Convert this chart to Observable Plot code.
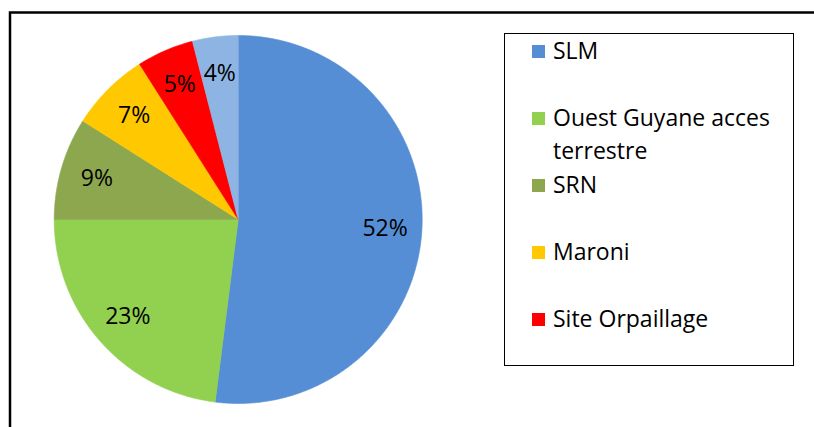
<!DOCTYPE html>
<html>
<head>
<meta charset="utf-8">
<script src="https://cdn.jsdelivr.net/npm/d3@7"></script>
<script src="https://cdn.jsdelivr.net/npm/@observablehq/plot@0.6"></script>
<style>
  html, body { margin: 0; padding: 0; background: #fff; }
  #wrap { position: relative; width: 814px; height: 427px; overflow: hidden; }
  #legend { position: absolute; left: 504px; top: 33px; width: 290px; height: 333px; border: 1px solid #000; box-sizing: border-box; font-family: "Open Sans", sans-serif; font-size: 23px; color: #000; }
  .item { position: absolute; left: 27px; width: 255px; line-height: 33px; }
  .sw { position: absolute; left: 0; top: 11px; width: 13px; height: 13px; }
  .lab { margin-left: 21px; display: block; width: 234px; }
</style>
</head>
<body>
<div id="wrap"><div id="chart"></div><div id="legend"></div></div>
<script>
const categories = ["SLM", "Ouest Guyane acces terrestre", "SRN", "Maroni", "Site Orpaillage", "Autres"];
const values = [52, 23, 9, 7, 5, 4];
const colors = ["#558ED5", "#92D050", "#8DA74F", "#FFC800", "#FF0000", "#8EB4E3"];
const legendCategories = ["SLM", "Ouest Guyane acces terrestre", "SRN", "Maroni", "Site Orpaillage"];

const arcs = d3.pie().sort(null).value(d => d)(values);
const total = d3.sum(values);

// slice polygons in unit-circle coordinates (y up), angles clockwise from 12 o'clock
const points = [];
arcs.forEach((a, i) => {
  const name = categories[i];
  points.push({name, x: 0, y: 0});
  const n = Math.max(2, Math.ceil((a.endAngle - a.startAngle) / (Math.PI / 360)));
  for (let k = 0; k <= n; k++) {
    const t = a.startAngle + (a.endAngle - a.startAngle) * k / n;
    points.push({name, x: Math.sin(t), y: Math.cos(t)});
  }
  points.push({name, x: 0, y: 0});
});

const labelRadius = 0.8;
const labels = arcs.map((a, i) => {
  const m = (a.startAngle + a.endAngle) / 2;
  return {name: categories[i], text: Math.round(values[i] / total * 100) + "%", x: labelRadius * Math.sin(m), y: labelRadius * Math.cos(m)};
});

const plot = Plot.plot({
  width: 814,
  height: 427,
  margin: 0,
  style: {background: "#fff"},
  x: {domain: [-1, 1], range: [53.7, 421.7], axis: null},
  y: {domain: [-1, 1], range: [403, 35], axis: null},
  color: {domain: categories, range: colors},
  marks: [
    Plot.line(points, {x: "x", y: "y", z: "name", fill: "name", stroke: "name", strokeWidth: 0.6, curve: "linear"}),
    Plot.text(labels, {x: "x", y: "y", text: "text", fill: "#000", fontSize: 23, fontFamily: "Open Sans, sans-serif"}),
    Plot.frame({stroke: "#000", strokeWidth: 2.5, insetLeft: 9.5, insetTop: 12, insetRight: -10, insetBottom: -10})
  ]
});
document.getElementById("chart").appendChild(plot);

const legend = document.getElementById("legend");
legendCategories.forEach((c, i) => {
  const it = document.createElement("div");
  it.className = "item";
  it.style.top = (-0.5 + i * 67.2) + "px";
  const sw = document.createElement("span");
  sw.className = "sw";
  sw.style.background = colors[categories.indexOf(c)];
  const lab = document.createElement("span");
  lab.className = "lab";
  lab.textContent = c;
  it.appendChild(sw);
  it.appendChild(lab);
  legend.appendChild(it);
});
</script>
</body>
</html>
